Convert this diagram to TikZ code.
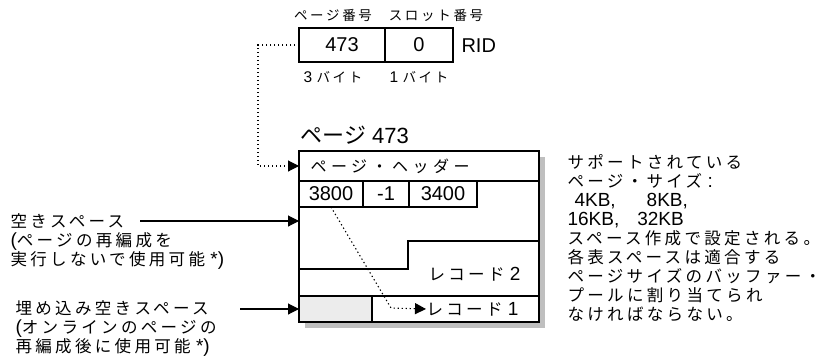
\documentclass[tikz,border=0pt]{standalone}
\usepackage{fontspec}
\setmainfont{Liberation Sans}
\newfontfamily\jp{Noto Sans CJK JP}[Scale=0.87, LetterSpace=20]
\newfontfamily\jpw{Noto Sans CJK JP}[LetterSpace=28]
\newfontfamily\jpn{Noto Sans CJK JP}
\usetikzlibrary{arrows.meta,shadows}
\tikzstyle{ptr} = [line width=1.1pt, -{Triangle[length=11pt,width=11pt]}]
\tikzstyle{dotptr} = [ptr, dash pattern=on 1.3pt off 2.7pt]
\tikzstyle{cell} = [draw, line width=1.1pt, inner sep=0pt, outer sep=0pt, anchor=north west]
\tikzstyle{note} = [align=left, anchor=north west, inner sep=0pt, font=\fontsize{19}{19}\selectfont]
\tikzstyle{small} = [font=\fontsize{15.5}{15.5}\selectfont]
\tikzstyle{big} = [font=\fontsize{20}{20}\selectfont]

\begin{document}
\begin{tikzpicture}[x=1pt, y=-1pt, line width=1.1pt]
    \useasboundingbox (0,0) rectangle (828,360);

    % RID
    \node[cell, big, minimum width=86pt, minimum height=34pt] (pgno) at (299,28) {473};
    \node[cell, big, minimum width=68pt, minimum height=34pt] (slotno) at (pgno.north east) {0};
    \node[anchor=west, big, inner sep=0pt] (rid) at (461,46) {RID};
    \node[small] (pglbl) at (333,15) {\jp ページ番号};
    \node[small] (slotlbl) at (436,15) {\jp スロット番号};
    \node[small] (pgsize) at (333,77) {3 {\jp バイト}};
    \node[small] (slotsize) at (419,77) {1 {\jp バイト}};

    % Page
    \node[anchor=west, inner sep=0pt, font=\fontsize{22}{22}\selectfont] (title) at (300,135) {{\jpn ページ} 473};
    \node[cell, fill=white, minimum width=240pt, minimum height=171pt,
          drop shadow={shadow xshift=6pt, shadow yshift=-6pt, fill=gray!50, opacity=1}] (page) at (299,151) {};
    \node[anchor=west, inner sep=0pt, font=\fontsize{16}{16}\selectfont] (hdr) at (310,166) {\jpw ページ・ヘッダー};
    \draw (299,181) -- (539,181);
    \node[cell, big, minimum width=64pt, minimum height=26pt] (s1) at (299,181) {3800};
    \node[cell, big, minimum width=46pt, minimum height=26pt] (s2) at (s1.north east) {-1};
    \node[cell, big, minimum width=68pt, minimum height=26pt] (s3) at (s2.north east) {3400};

    % Records
    \draw (299,269) -- (408,269) -- (408,241) -- (539,241);
    \draw (299,296) -- (539,296);
    \node[cell, fill=gray!15, minimum width=73pt, minimum height=26pt] (emb) at (299,296) {};
    \node[anchor=west, inner sep=0pt, font=\fontsize{19}{19}\selectfont] (rec2) at (428,274) {{\jp レコード} 2};
    \node[anchor=west, inner sep=0pt, font=\fontsize{19}{19}\selectfont] (rec1) at (426,309) {{\jp レコード} 1};

    % Pointers
    \draw[dotptr] (pgno.west) -- ++(-41,0) |- (page.west |- hdr.west);
    \draw[dotptr] (s1.south) -- (391,308) -- (rec1.west);

    % Free space
    \node[note] (freesp) at (10,213) {{\jp 空きスペース}\\({\jp ページの再編成を}\\{\jp 実行しないで使用可能} *)};
    \coordinate (freefrom) at (140,221);
    \draw[ptr] (freefrom) -- (freefrom -| page.west);
    \node[note] (embsp) at (15,300) {{\jp 埋め込み空きスペース}\\({\jp オンラインのページの}\\{\jp 再編成後に使用可能} *)};
    \coordinate (embfrom) at (240,309);
    \draw[ptr] (embfrom) -- (embfrom -| page.west);

    % Page sizes
    \node[note] (sizes) at (567,154) {{\jp サポートされている}\\{\jp ページ・サイズ} :\\\hspace*{7pt}4KB,\hspace{31pt}8KB,\\16KB,\hspace{18pt}32KB\\{\jp スペース作成で設定される。}\\{\jp 各表スペースは適合する}\\{\jp ページサイズのバッファー・}\\{\jp プールに割り当てられ}\\{\jp なければならない。}};
\end{tikzpicture}
\end{document}
